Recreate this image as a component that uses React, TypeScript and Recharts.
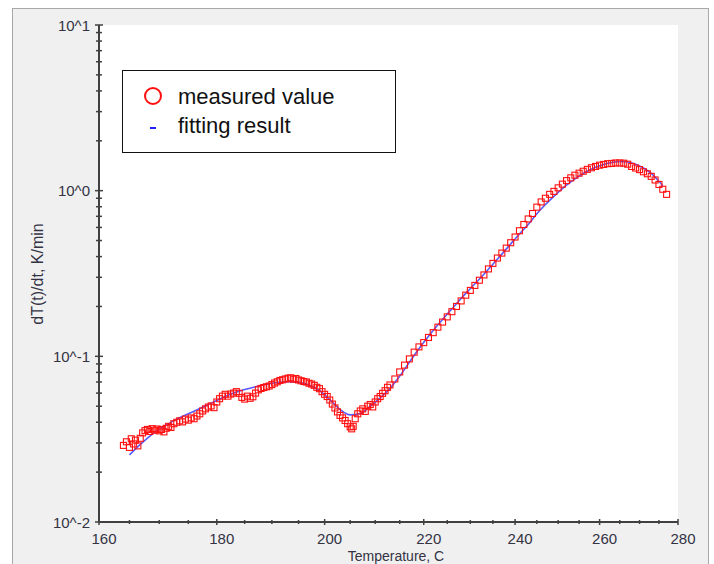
import React from 'react';
import { ComposedChart, XAxis, YAxis, Line, Scatter, CartesianGrid, Legend, Label } from 'recharts';

// measured points: temperature (C) and dT/dt (K/min)
const measuredTemp = [
  164.0, 164.5, 165.0, 165.3, 165.7, 166.0, 166.4, 166.8, 167.2, 167.6,
  168.0, 168.4, 168.8, 169.2, 169.6, 170.0, 170.4, 170.8, 171.2, 171.6,
  172.0, 172.5, 173.0, 173.5, 174.0, 174.5, 175.0, 175.5, 176.0, 176.5,
  177.0, 177.5, 178.0, 178.5, 179.0, 179.5, 180.0, 180.5, 181.0, 181.5,
  182.0, 182.5, 183.0, 183.5, 184.0, 184.5, 185.0, 185.5, 186.0, 186.5,
  187.0, 187.5, 188.0, 188.5, 189.0, 189.5, 190.0, 190.5, 191.0, 191.5,
  192.0, 192.5, 193.0, 193.5, 194.0, 194.5, 195.0, 195.5, 196.0, 196.5,
  197.0, 197.5, 198.0, 198.5, 199.0, 199.5, 200.0, 200.5, 201.0, 201.5,
  202.0, 202.5, 203.0, 203.5, 204.0, 204.5, 205.0, 205.3, 205.6, 206.0,
  206.5, 207.0, 207.5, 208.0, 208.5, 209.0, 209.5, 210.0, 210.5, 211.0,
  211.5, 212.0, 212.5, 213.0, 214.0, 215.0, 216.0, 217.0, 218.0, 219.0,
  220.0, 221.0, 222.0, 223.0, 224.0, 225.0, 226.0, 227.0, 228.0, 229.0,
  230.0, 231.0, 232.0, 233.0, 234.0, 235.0, 236.0, 237.0, 238.0, 239.0,
  240.0, 241.0, 242.0, 243.0, 244.0, 245.0, 246.0, 247.0, 248.0, 249.0,
  250.0, 251.0, 252.0, 253.0, 254.0, 255.0, 256.0, 257.0, 258.0, 259.0,
  260.0, 261.0, 262.0, 263.0, 264.0, 265.0, 266.0, 267.0, 268.0, 269.0,
  270.0, 271.0, 272.0, 273.0, 274.0, 275.0, 276.0, 277.0,
];
const measuredRate = [
  0.0290, 0.0305, 0.0282, 0.0318, 0.0296, 0.0312, 0.0288, 0.0320, 0.0345, 0.0356,
  0.0362, 0.0352, 0.0366, 0.0358, 0.0364, 0.0355, 0.0362, 0.0350, 0.0368, 0.0378,
  0.0372, 0.0392, 0.0400, 0.0408, 0.0402, 0.0418, 0.0412, 0.0425, 0.0420, 0.0436,
  0.0450, 0.0468, 0.0482, 0.0494, 0.0502, 0.0490, 0.0530, 0.0555, 0.0575, 0.0590,
  0.0575, 0.0592, 0.0600, 0.0612, 0.0598, 0.0565, 0.0552, 0.0575, 0.0558, 0.0570,
  0.0600, 0.0628, 0.0640, 0.0648, 0.0655, 0.0662, 0.0675, 0.0690, 0.0702, 0.0715,
  0.0722, 0.0730, 0.0738, 0.0742, 0.0728, 0.0735, 0.0720, 0.0712, 0.0705, 0.0700,
  0.0688, 0.0680, 0.0668, 0.0650, 0.0638, 0.0612, 0.0590, 0.0572, 0.0545, 0.0515,
  0.0488, 0.0462, 0.0440, 0.0425, 0.0410, 0.0392, 0.0375, 0.0365, 0.0378, 0.0420,
  0.0450, 0.0468, 0.0482, 0.0465, 0.0500, 0.0512, 0.0495, 0.0530, 0.0555, 0.0572,
  0.0598, 0.0620, 0.0650, 0.0672, 0.0730, 0.0805, 0.0885, 0.0965, 0.1060, 0.1140,
  0.1210, 0.1300, 0.1390, 0.1500, 0.1610, 0.1730, 0.1860, 0.2000, 0.2160, 0.2340,
  0.2500, 0.2680, 0.2880, 0.3100, 0.3370, 0.3640, 0.3920, 0.4200, 0.4500, 0.4850,
  0.5250, 0.5730, 0.6250, 0.6750, 0.7280, 0.7950, 0.8550, 0.9000, 0.9500, 0.9900,
  1.0400, 1.0950, 1.1500, 1.1950, 1.2400, 1.2750, 1.3100, 1.3450, 1.3750, 1.4000,
  1.4250, 1.4400, 1.4550, 1.4600, 1.4700, 1.4700, 1.4650, 1.4450, 1.4000, 1.3700,
  1.3400, 1.3000, 1.2650, 1.2200, 1.1600, 1.0900, 1.0200, 0.9500,
];

// fitting result
const fitTemp = [
  165, 167, 169, 171, 173, 175, 177, 179, 181, 183,
  185, 187, 189, 191, 193, 195, 197, 199, 201, 203,
  205, 207, 209, 211, 213, 215, 217, 219, 221, 223,
  225, 227, 229, 231, 233, 235, 237, 239, 241, 243,
  245, 247, 249, 251, 253, 255, 257, 259, 261, 263,
  265, 267, 269, 271, 273, 275, 276,
];
const fitRate = [
  0.0254, 0.0298, 0.0343, 0.0381, 0.0418, 0.0450, 0.0484, 0.0522, 0.0563, 0.0600,
  0.0630, 0.0656, 0.0678, 0.0695, 0.0703, 0.0698, 0.0672, 0.0622, 0.0548, 0.0478,
  0.0443, 0.0452, 0.0500, 0.0562, 0.0640, 0.0760, 0.0920, 0.1110, 0.1320, 0.1550,
  0.1800, 0.2080, 0.2400, 0.2740, 0.3130, 0.3600, 0.4140, 0.4770, 0.5480, 0.6250,
  0.7250, 0.8250, 0.9250, 1.0300, 1.1300, 1.2250, 1.3100, 1.3850, 1.4400, 1.4800,
  1.5000, 1.4900, 1.4450, 1.3700, 1.2700, 1.1400, 1.0700,
];

const tempTicks = [160, 165, 170, 175, 180, 185, 190, 195, 200, 205, 210, 215, 220, 225, 230, 235, 240, 245, 250, 255, 260, 265, 270, 275, 280];
const majorTempTicks = [160, 180, 200, 220, 240, 260, 280];
const rateTicks = [
  0.01, 0.02, 0.03, 0.04, 0.05, 0.06, 0.07, 0.08, 0.09,
  0.1, 0.2, 0.3, 0.4, 0.5, 0.6, 0.7, 0.8, 0.9,
  1, 2, 3, 4, 5, 6, 7, 8, 9, 10,
];
const majorRateTicks = [0.01, 0.1, 1, 10];
const majorRateLabels = ['10^-2', '10^-1', '10^0', '10^1'];

const FONT = '"Liberation Sans", Arial, sans-serif';
const AXIS = '#404040';
const TXT = '#333344';

// reciprocal absolute temperature axis
const toX = (t: number) => -1000 / (t + 273.15);
const toT = (x: number) => -1000 / x - 273.15;

const measuredData = measuredTemp.map((t, i) => ({ x: toX(t), y: measuredRate[i] }));
const fitData = fitTemp.map((t, i) => ({ x: toX(t), y: fitRate[i] }));
const xTicks = tempTicks.map(toX);

const XTick = (props: any) => {
  const { x, y, payload } = props;
  const t = Math.round(toT(payload.value));
  const major = majorTempTicks.includes(t);
  const h = major ? 3 : 2;
  return (
    <g>
      <line x1={x} x2={x} y1={y - h} y2={y + h} stroke={AXIS} strokeWidth={1.5} />
      {major && (
        <text x={x + 5} y={y + 22} textAnchor="middle" fontSize={15} fontFamily={FONT} fill={TXT}>
          {t}
        </text>
      )}
    </g>
  );
};

const YTick = (props: any) => {
  const { x, y, payload } = props;
  const idx = majorRateTicks.findIndex((v) => Math.abs(v - payload.value) < 1e-9);
  const major = idx >= 0;
  const w = major ? 4 : 3;
  return (
    <g>
      <line x1={x - w} x2={x + w} y1={y} y2={y} stroke={AXIS} strokeWidth={1.5} />
      {major && (
        <text x={x - 9} y={y + 5.5} textAnchor="end" fontSize={15} fontFamily={FONT} fill={TXT}>
          {majorRateLabels[idx]}
        </text>
      )}
    </g>
  );
};

const SquareShape = (props: any) => {
  const { cx, cy } = props;
  if (cx == null || cy == null) return null;
  return <rect x={cx - 3} y={cy - 3} width={6} height={6} fill="none" stroke="#ff1010" strokeWidth={1.1} />;
};

const LegendBox = () => (
  <svg width={274} height={83} style={{ display: 'block' }}>
    <rect x={0.5} y={0.5} width={273} height={82} fill="#ffffff" stroke="#111" strokeWidth={1} />
    <circle cx={31} cy={26} r={8} fill="none" stroke="#ff1010" strokeWidth={2} />
    <text x={56} y={34} fontSize={22} fontFamily={FONT} fill="#111">measured value</text>
    <line x1={28} x2={34} y1={58} y2={58} stroke="#2020ff" strokeWidth={2} />
    <text x={56} y={63} fontSize={22} fontFamily={FONT} fill="#111">fitting result</text>
  </svg>
);

export default function App() {
  return (
    <div style={{ position: 'absolute', left: 0, top: 0, width: 714, height: 564, overflow: 'hidden', background: '#fff' }}>
      <div
        style={{
          position: 'absolute',
          left: 12,
          top: 8,
          width: 697,
          height: 600,
          boxSizing: 'border-box',
          border: '1px solid #a8a8a8',
          background: '#f0f0f0',
        }}
      />
      <div style={{ position: 'absolute', left: 0, top: 0 }}>
        <ComposedChart width={714} height={564} margin={{ top: 25, right: 36, bottom: 12, left: 39 }}>
          <CartesianGrid horizontal={false} vertical={false} fill="#ffffff" stroke="none" />
          <XAxis
            type="number"
            dataKey="x"
            domain={[toX(160), toX(280)]}
            ticks={xTicks}
            interval={0}
            allowDataOverflow
            height={30}
            tickSize={0}
            tickMargin={0}
            tickLine={false}
            tick={<XTick />}
            axisLine={{ stroke: AXIS, strokeWidth: 2 }}
          >
            <Label
              content={() => (
                <text x={396} y={561} textAnchor="middle" fontSize={14} fontFamily={FONT} fill={TXT}>
                  Temperature, C
                </text>
              )}
            />
          </XAxis>
          <YAxis
            type="number"
            dataKey="y"
            scale="log"
            domain={[0.01, 10]}
            ticks={rateTicks}
            interval={0}
            allowDataOverflow
            width={60}
            tickSize={0}
            tickMargin={0}
            tickLine={false}
            tick={<YTick />}
            axisLine={{ stroke: AXIS, strokeWidth: 2 }}
          >
            <Label
              content={() => (
                <text
                  x={37}
                  y={274}
                  transform="rotate(-90 37 274)"
                  textAnchor="middle"
                  dominantBaseline="central"
                  fontSize={16}
                  fontFamily={FONT}
                  fill={TXT}
                >
                  dT(t)/dt, K/min
                </text>
              )}
            />
          </YAxis>
          <Line
            data={fitData}
            dataKey="y"
            type="monotone"
            stroke="#3030ff"
            strokeOpacity={0.8}
            strokeWidth={1.6}
            dot={false}
            isAnimationActive={false}
          />
          <Scatter data={measuredData} dataKey="y" shape={<SquareShape />} isAnimationActive={false} />
          <Legend
            layout="horizontal"
            verticalAlign="middle"
            align="center"
            wrapperStyle={{ left: 122, top: 70, width: 274, height: 83 }}
            content={<LegendBox />}
          />
        </ComposedChart>
      </div>
    </div>
  );
}
